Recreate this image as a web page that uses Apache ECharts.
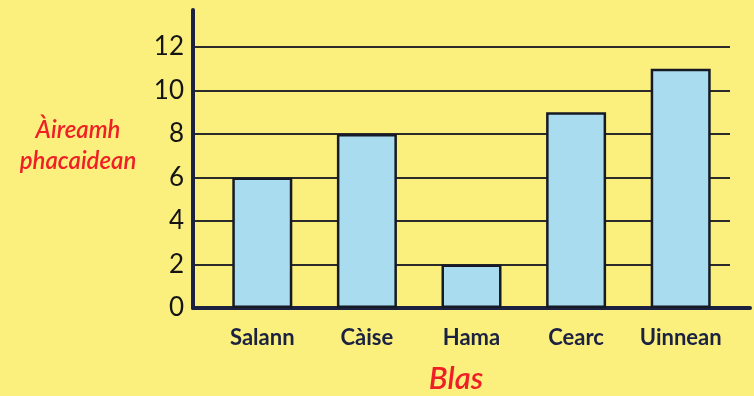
<!DOCTYPE html>
<html>
<head>
<meta charset="utf-8">
<style>
  html, body { margin: 0; padding: 0; background: #fbf07e; }
  #chart { width: 754px; height: 396px; }
</style>
<script src="https://cdn.jsdelivr.net/npm/echarts@6/dist/echarts.min.js"></script>
</head>
<body>
<div id="chart"></div>
<script>
// Flavours and how many packets of each were counted
const categories = ['Salann', 'Càise', 'Hama', 'Cearc', 'Uinnean'];
const counts = [6, 8, 2, 9, 11];
const yTicks = [0, 2, 4, 6, 8, 10, 12];

const yMax = 13.7;
const labelFont = 'Lato, "Noto Sans", sans-serif';
const ink = '#1b2140';
const red = '#ee2026';

const chart = echarts.init(document.getElementById('chart'));

const gridTop = 10, gridBottom = 88;

chart.setOption({
  backgroundColor: '#fbf07e',
  animation: false,
  grid: [
    // axes frame
    { left: 193, right: 4, top: gridTop, bottom: gridBottom },
    // horizontal rules
    { left: 193, right: 24, top: gridTop, bottom: gridBottom },
    // bars
    { left: 210, right: 21, top: gridTop, bottom: gridBottom }
  ],
  xAxis: [
    {
      gridIndex: 0, type: 'value', min: 0, max: 1,
      axisLine: { show: true, onZero: false, lineStyle: { color: ink, width: 4 } },
      axisTick: { show: false }, axisLabel: { show: false }, splitLine: { show: false }
    },
    {
      gridIndex: 1, type: 'value', min: 0, max: 1, show: false
    },
    {
      gridIndex: 2, type: 'category', data: categories,
      axisLine: { show: false }, axisTick: { show: false },
      axisLabel: {
        interval: 0, hideOverlap: false,
        color: ink, fontFamily: labelFont, fontSize: 22, fontWeight: 'bold',
        margin: 19
      }
    }
  ],
  yAxis: [
    {
      gridIndex: 0, type: 'value', min: 0, max: yMax, interval: 2,
      axisLine: { show: true, lineStyle: { color: ink, width: 4 } },
      axisTick: { show: false },
      splitLine: { show: false },
      axisLabel: {
        color: '#141414', fontFamily: labelFont, fontSize: 26, margin: 9,
        showMaxLabel: false,
        formatter: v => (yTicks.indexOf(v) >= 0 ? String(v) : '')
      }
    },
    {
      gridIndex: 1, type: 'value', min: 0, max: yMax, interval: 2,
      axisLine: { show: false }, axisTick: { show: false }, axisLabel: { show: false },
      splitLine: {
        show: true,
        lineStyle: {
          width: 2,
          color: ['transparent', '#2b2b2b', '#2b2b2b', '#2b2b2b', '#2b2b2b', '#2b2b2b', '#2b2b2b', 'transparent']
        }
      }
    },
    {
      gridIndex: 2, type: 'value', min: 0, max: yMax, show: false
    }
  ],
  series: [
    {
      type: 'bar',
      xAxisIndex: 2, yAxisIndex: 2,
      data: counts,
      barWidth: 60,
      itemStyle: { color: '#a9dcee', borderColor: '#151a24', borderWidth: 2.5 }
    }
  ],
  graphic: [
    {
      type: 'text', x: 78, y: 146,
      style: {
        text: 'Àireamh\nphacaidean', fill: red, fontFamily: labelFont,
        fontSize: 24, fontStyle: 'italic', fontWeight: 600,
        align: 'center', verticalAlign: 'middle', lineHeight: 31
      }
    },
    {
      type: 'text', x: 456, y: 379,
      style: {
        text: 'Blas', fill: red, fontFamily: labelFont,
        fontSize: 31, fontStyle: 'italic', fontWeight: 600,
        align: 'center', verticalAlign: 'middle'
      }
    }
  ]
});
</script>
</body>
</html>
